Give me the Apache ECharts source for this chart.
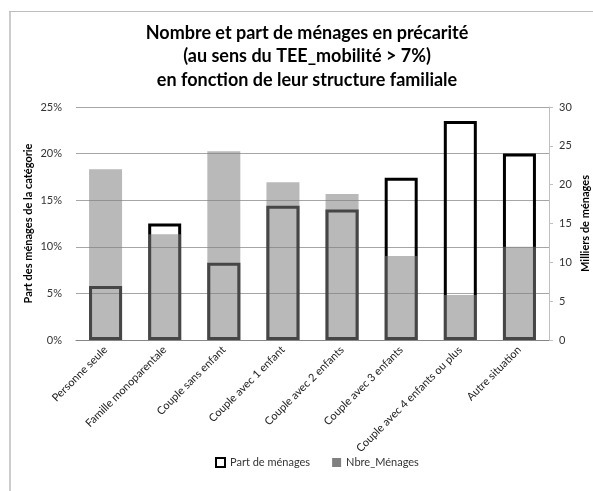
<!DOCTYPE html>
<html>
<head>
<meta charset="utf-8">
<script src="https://cdn.jsdelivr.net/npm/echarts@6/dist/echarts.min.js"></script>
<style>
  html, body { margin: 0; padding: 0; background: #fff; }
  #chart { width: 593px; height: 491px; }
</style>
</head>
<body>
<div id="chart"></div>
<script>
// catégories (structure familiale)
var categories = [
  "Personne seule",
  "Famille monoparentale",
  "Couple sans enfant",
  "Couple avec 1 enfant",
  "Couple avec 2 enfants",
  "Couple avec 3 enfants",
  "Couple avec 4 enfants ou plus",
  "Autre situation"
];
// part des ménages en précarité (%)
var partMenages = [5.8, 12.5, 8.3, 14.4, 14.0, 17.4, 23.5, 20.0];
// nombre de ménages (milliers)
var nbreMenages = [22.0, 13.6, 24.3, 20.3, 18.8, 10.8, 5.8, 12.0];

var font = "Lato";
var chart = echarts.init(document.getElementById("chart"));

var option = {
  backgroundColor: "#fff",
  animation: false,
  textStyle: { fontFamily: font },
  title: {
    text: "Nombre et part de ménages en précarité\n(au sens du TEE_mobilité > 7%)\nen fonction de leur structure familiale",
    left: 302,
    textAlign: "center",
    top: 16,
    textStyle: {
      fontFamily: font,
      fontSize: 18,
      fontWeight: "bold",
      color: "#000",
      lineHeight: 23.5
    }
  },
  legend: {
    bottom: 18,
    left: 210,
    icon: "rect",
    itemWidth: 9,
    itemHeight: 9,
    itemGap: 22,
    textStyle: { fontFamily: font, fontSize: 11, color: "#333" },
    data: [
      { name: "Part de ménages", itemStyle: { color: "#fff", borderColor: "#000", borderWidth: 2 } },
      { name: "Nbre_Ménages", itemStyle: { color: "#808080" } }
    ]
  },
  grid: {
    left: 76,
    right: 44,
    top: 107,
    bottom: 151,
    outerBoundsMode: "none"
  },
  xAxis: {
    type: "category",
    data: categories,
    axisTick: { show: false },
    axisLine: { lineStyle: { color: "#868686", width: 1 } },
    axisLabel: {
      rotate: 45,
      interval: 0,
      fontSize: 11,
      color: "#222",
      margin: 8
    }
  },
  yAxis: [
    {
      type: "value",
      min: 0,
      max: 25,
      interval: 5,
      name: "Part des ménages de la catégorie",
      nameLocation: "middle",
      nameGap: 42,
      nameMoveOverlap: false,
      nameTextStyle: { fontSize: 11, fontWeight: "bold", color: "#000" },
      axisLine: { show: false },
      axisTick: { show: false },
      axisLabel: { formatter: "{value}%", fontSize: 11, color: "#333", margin: 14 },
      splitLine: { lineStyle: { color: "#a6a6a6", width: 1 } }
    },
    {
      type: "value",
      min: 0,
      max: 30,
      interval: 5,
      position: "right",
      name: "Milliers de ménages",
      nameLocation: "middle",
      nameGap: 31,
      nameMoveOverlap: false,
      nameRotate: 90,
      nameTextStyle: { fontSize: 11, fontWeight: "bold", color: "#000" },
      axisLine: { show: true, lineStyle: { color: "#bfbfbf" } },
      axisTick: { show: true, length: 4, lineStyle: { color: "#bfbfbf" } },
      axisLabel: { fontSize: 11, color: "#333", margin: 10 },
      splitLine: { show: false }
    }
  ],
  graphic: [
    { type: "rect", shape: { x: 9, y: 11, width: 2, height: 480 }, style: { fill: "#cccccc" }, silent: true },
    { type: "rect", shape: { x: 9, y: 11, width: 584, height: 1 }, style: { fill: "#bdbdbd" }, silent: true }
  ],
  series: [
    {
      name: "Part de ménages",
      type: "bar",
      yAxisIndex: 0,
      barWidth: 33,
      barGap: "-100%",
      itemStyle: { color: "rgba(255,255,255,0)", borderColor: "#000", borderWidth: 3 },
      data: partMenages
    },
    {
      name: "Nbre_Ménages",
      type: "bar",
      yAxisIndex: 1,
      barWidth: 33,
      barGap: "-100%",
      itemStyle: { color: "rgba(128,128,128,0.55)" },
      data: nbreMenages
    }
  ]
};

chart.setOption(option);
</script>
</body>
</html>
